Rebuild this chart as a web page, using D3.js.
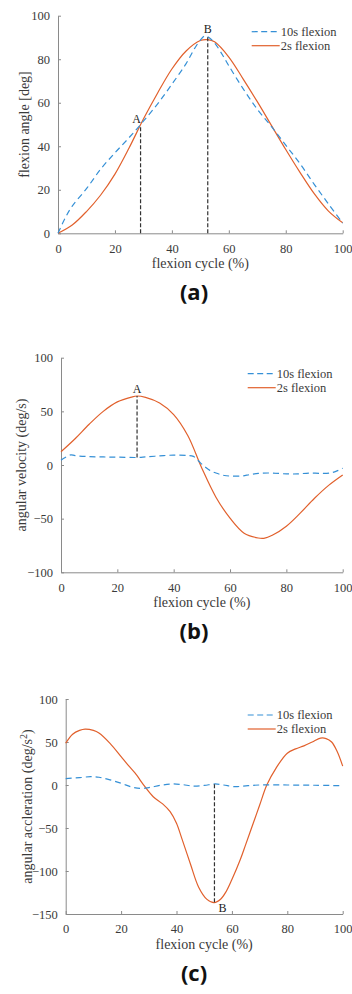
<!DOCTYPE html>
<html>
<head>
<meta charset="utf-8">
<script src="https://cdn.jsdelivr.net/npm/d3@7"></script>
<style>
  body { margin: 0; background: #fff; }
  svg { display: block; }
</style>
</head>
<body>
<div id="chart"></div>
<script>
// ---- data ----
const xTicks = [0, 20, 40, 60, 80, 100];
const seriesNames = ["10s flexion", "2s flexion"];

// (a) flexion angle [deg]
const angleX_10s = [0, 2.5, 5, 10, 15, 20, 25, 30, 35, 40, 45, 48, 50, 51.6, 53, 55, 58, 60, 65, 70, 75, 80, 85, 90, 95, 100];
const angleY_10s = [0, 7, 12.5, 20.5, 29.5, 37, 44, 51.5, 59.5, 68.5, 78, 85, 88.8, 90.7, 90, 87.5, 81.5, 77, 66.5, 57, 49, 40.5, 32, 22.5, 13.5, 4.7];
const angleX_2s = [0, 5, 10, 15, 20, 25, 30, 35, 40, 45, 50, 52.5, 55, 60, 65, 70, 75, 80, 85, 90, 95, 100];
const angleY_2s = [0, 3.8, 10, 17.6, 27.2, 39.3, 52.5, 64.5, 75.5, 83.8, 88.6, 89, 88, 81, 71, 60.5, 49.5, 38.5, 28, 18.2, 10.2, 4.8];
const angleTicks = [0, 20, 40, 60, 80, 100];
const angleMarks = [{label: "A", x: 29, y0: 0, y1: 49.5}, {label: "B", x: 52.6, y0: 0, y1: 90.5}];

// (b) angular velocity (deg/s)
const velX_10s = [0, 1.5, 3.5, 5, 10, 15, 20, 27, 30, 35, 40, 45, 47, 49.5, 52.5, 55, 58, 60, 64, 67, 70, 75, 80, 84, 88, 93, 96, 98, 100];
const velY_10s = [4.5, 7, 9.5, 8.7, 7.8, 7.5, 7.3, 7, 7.5, 8.5, 9.2, 8.8, 8, 2, -4.5, -7.5, -9.8, -10.3, -10.3, -9, -7.8, -7.5, -8.3, -8.3, -7.5, -7.8, -7.2, -5.5, -3];
const velX_2s = [0, 5, 10, 15, 20, 25, 27, 30, 35, 40, 45, 50, 55, 60, 65, 70, 72, 75, 80, 85, 90, 95, 100];
const velY_2s = [12.4, 24.5, 38, 50, 58.8, 63.3, 64.3, 63, 57.8, 47, 27.5, -3, -30, -49.5, -63.5, -68, -68.3, -65.5, -57, -44.6, -31, -19, -9.3];
const velTicks = [-100, -50, 0, 50, 100];
const velMarks = [{label: "A", x: 27, y0: 7, y1: 64.3}];

// (c) angular acceleration (deg/s^2)
const accX_10s = [0, 5, 9, 12, 16, 20, 24, 27, 30, 34, 38, 42, 46, 50, 53.9, 57, 61, 65, 70, 80, 90, 100];
const accY_10s = [7.5, 8.5, 9.7, 9, 6, 2, -2.5, -4, -3, -0.5, 1.2, 0.5, -1.2, -0.5, 1.2, 0, -1.9, -1, 0, 0, -0.3, -0.8];
const accX_2s = [0, 2.5, 5, 7, 10, 12, 16, 20, 22, 25, 28.6, 31.6, 35, 37.7, 40, 42, 45, 48, 51, 53.6, 56, 58, 60, 63, 65, 67.7, 70, 72.6, 76, 80, 83, 86, 89, 92, 94, 96, 98, 100];
const accY_2s = [48.5, 59, 63.5, 65, 63.5, 60.5, 48.5, 33, 25.2, 14, -2, -13.6, -22, -31, -44.5, -63, -91.5, -118.8, -133, -136.8, -132.5, -123.5, -110, -87, -69, -44.5, -23.6, 0, 20, 37, 42, 45.5, 50, 54.5, 54, 50, 39, 22];
const accTicks = [-150, -100, -50, 0, 50, 100];
const accMarks = [{label: "B", x: 53.7, y0: 0.8, y1: -136.8}];

// ---- style ----
const BLUE = "#3590d6";
const ORANGE = "#e1602c";
const AXIS = "#8a8a8a";
const TEXT = "#3a3a3a";
const SERIF = "'Liberation Serif', 'Times New Roman', serif";

const svg = d3.select("#chart")
  .append("svg")
    .attr("width", 352)
    .attr("height", 994);

function drawPanel(p) {
  const x = d3.scaleLinear().domain([0, 100]).range([p.left, p.right]);
  const y = d3.scaleLinear().domain(p.yDomain).range([p.bottom, p.top]);
  const g = svg.append("g");

  // axes (left and bottom only, ticks pointing in)
  const xAxis = g.append("g")
    .attr("transform", `translate(0,${p.bottom})`)
    .call(d3.axisBottom(x).tickValues(xTicks).tickSizeInner(-3).tickSizeOuter(0).tickPadding(8));
  const yAxis = g.append("g")
    .attr("transform", `translate(${p.left},0)`)
    .call(d3.axisLeft(y).tickValues(p.yTicks).tickSizeInner(-3).tickSizeOuter(0).tickPadding(8));
  [xAxis, yAxis].forEach(a => {
    a.select(".domain").attr("stroke", AXIS).attr("stroke-width", 1);
    a.selectAll(".tick line").attr("stroke", AXIS);
    a.selectAll(".tick text")
      .attr("fill", TEXT)
      .style("font-family", SERIF)
      .style("font-size", "12.5px");
  });
  xAxis.selectAll(".tick text").attr("dy", "0.9em");

  // axis titles
  g.append("text")
    .attr("x", (p.left + p.right) / 2)
    .attr("y", p.bottom + 35)
    .attr("text-anchor", "middle")
    .attr("fill", TEXT)
    .style("font-family", SERIF)
    .style("font-size", "14px")
    .text("flexion cycle (%)");

  const yt = g.append("text")
    .attr("transform", `translate(${p.yTitleX},${(p.top + p.bottom) / 2}) rotate(-90)`)
    .attr("dy", "0.35em")
    .attr("text-anchor", "middle")
    .attr("fill", TEXT)
    .style("font-family", SERIF)
    .style("font-size", "14px")
    .text(p.yTitle);
  if (p.yTitleSup) {
    yt.append("tspan").attr("baseline-shift", "super").style("font-size", "10px").text(p.yTitleSup);
    yt.append("tspan").text(")");
  }

  // curves
  const line = d3.line()
    .x(d => x(d[0]))
    .y(d => y(d[1]))
    .curve(d3.curveCatmullRom.alpha(0.5));

  g.append("path")
    .datum(d3.zip(p.x2s, p.y2s))
    .attr("fill", "none")
    .attr("stroke", ORANGE)
    .attr("stroke-width", 1.2)
    .attr("d", line);

  g.append("path")
    .datum(d3.zip(p.x10s, p.y10s))
    .attr("fill", "none")
    .attr("stroke", BLUE)
    .attr("stroke-width", 1.2)
    .attr("stroke-dasharray", "6,4")
    .attr("d", line);

  // marker lines + letters
  p.marks.forEach(m => {
    g.append("line")
      .attr("x1", x(m.x)).attr("x2", x(m.x))
      .attr("y1", y(m.y0)).attr("y2", y(m.y1))
      .attr("stroke", "#333")
      .attr("stroke-width", 1.2)
      .attr("stroke-dasharray", "4,2");
    const below = m.y1 < m.y0;
    g.append("text")
      .attr("x", below ? x(m.x) + 4 : x(m.x) + (m.dx || 0))
      .attr("y", below ? y(m.y1) + 9 : y(m.y1) - 3)
      .attr("text-anchor", below ? "start" : "middle")
      .attr("fill", "#222")
      .style("font-family", SERIF)
      .style("font-size", "12px")
      .text(m.label);
  });

  // legend
  const legend = g.selectAll(".legend")
    .data(seriesNames)
    .join("g")
      .attr("class", "legend")
      .attr("transform", (d, i) => `translate(${p.right - p.legendOffset},${p.top + 16 + i * 14})`);
  legend.append("line")
    .attr("x1", 0).attr("x2", 28)
    .attr("stroke", (d, i) => i === 0 ? BLUE : ORANGE)
    .attr("stroke-width", 1.2)
    .attr("stroke-dasharray", (d, i) => i === 0 ? "6,3.5" : null);
  legend.append("text")
    .attr("x", 29)
    .attr("dy", "0.35em")
    .attr("fill", TEXT)
    .style("font-family", SERIF)
    .style("font-size", "12.5px")
    .text(d => d);

  // panel caption
  g.append("text")
    .attr("x", 194)
    .attr("y", p.bottom + 67)
    .attr("text-anchor", "middle")
    .attr("fill", "#111")
    .style("font-family", "'Open Sans', sans-serif")
    .style("font-weight", 700)
    .style("font-size", "22px")
    .text(p.caption);
}

drawPanel({
  left: 58, right: 342.7, top: 15.7, bottom: 233.3,
  yDomain: [0, 100], yTicks: angleTicks,
  x10s: angleX_10s, y10s: angleY_10s, x2s: angleX_2s, y2s: angleY_2s,
  marks: [Object.assign({dx: -4}, angleMarks[0]), angleMarks[1]],
  yTitle: "flexion angle [deg]", yTitleX: 24,
  legendOffset: 91, caption: "(a)"
});

drawPanel({
  left: 61, right: 342.7, top: 357.7, bottom: 572.3,
  yDomain: [-100, 100], yTicks: velTicks,
  x10s: velX_10s, y10s: velY_10s, x2s: velX_2s, y2s: velY_2s,
  marks: velMarks,
  yTitle: "angular velocity (deg/s)", yTitleX: 21,
  legendOffset: 95, caption: "(b)"
});

drawPanel({
  left: 65.7, right: 342.7, top: 699, bottom: 914,
  yDomain: [-150, 100], yTicks: accTicks,
  x10s: accX_10s, y10s: accY_10s, x2s: accX_2s, y2s: accY_2s,
  marks: accMarks,
  yTitle: "angular accleration (deg/s", yTitleSup: "2", yTitleX: 27,
  legendOffset: 95, caption: "(c)"
});
</script>
</body>
</html>
